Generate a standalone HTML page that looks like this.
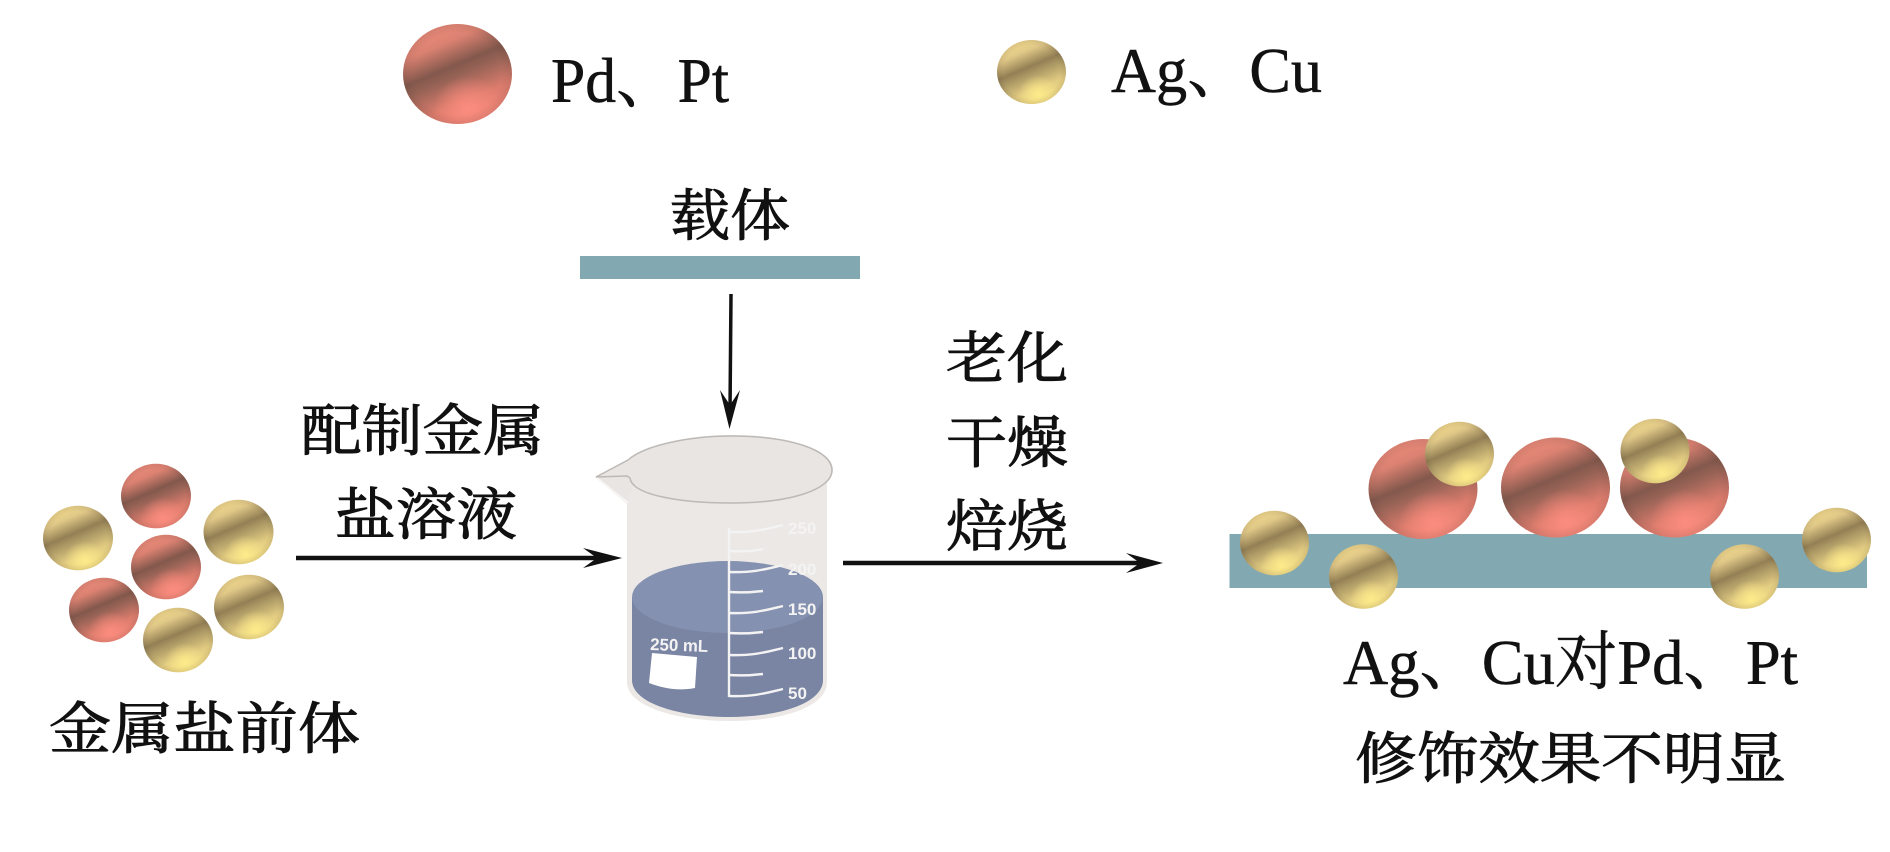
<!DOCTYPE html>
<html>
<head>
<meta charset="utf-8">
<style>
html,body{margin:0;padding:0;background:#fff;width:1890px;height:852px;overflow:hidden}
svg{display:block}
.t{font-family:"Liberation Serif","Noto Serif CJK SC",serif;fill:#111;stroke:#111;stroke-width:.5}
.c{font-family:"Noto Serif CJK SC","Liberation Serif",serif;fill:#111;font-size:56px;stroke:#111;stroke-width:1}
.l{font-family:"Liberation Sans",sans-serif;font-weight:bold;fill:#f4f3f3;font-size:17px}
.tick{fill:none;stroke:#f4f3f3;stroke-width:2.4}
</style>
</head>
<body>
<svg width="1890" height="852" viewBox="0 0 1890 852" xmlns="http://www.w3.org/2000/svg">
<defs>
  <linearGradient id="pL" x1="0.27" y1="0" x2="0.73" y2="1">
    <stop offset="0" stop-color="#ee8c7c"/><stop offset="0.2" stop-color="#dc8272"/>
    <stop offset="0.42" stop-color="#83584c"/><stop offset="0.52" stop-color="#986356"/>
    <stop offset="0.75" stop-color="#dc7c6d"/><stop offset="1" stop-color="#f4887a"/>
  </linearGradient>
  <radialGradient id="pH" cx="0.6" cy="0.85" r="0.33">
    <stop offset="0" stop-color="#fb8c7e"/><stop offset="1" stop-color="#fb8c7e" stop-opacity="0"/>
  </radialGradient>
  <linearGradient id="gL" x1="0.27" y1="0" x2="0.73" y2="1">
    <stop offset="0" stop-color="#f6de8e"/><stop offset="0.2" stop-color="#dfc787"/>
    <stop offset="0.42" stop-color="#937f54"/><stop offset="0.52" stop-color="#ab9864"/>
    <stop offset="0.75" stop-color="#e2cc82"/><stop offset="1" stop-color="#f6df86"/>
  </linearGradient>
  <radialGradient id="gH" cx="0.6" cy="0.85" r="0.3">
    <stop offset="0" stop-color="#fdeb8a"/><stop offset="1" stop-color="#fdeb8a" stop-opacity="0"/>
  </radialGradient>
  <radialGradient id="edge" cx="0.5" cy="0.5" r="0.5">
    <stop offset="0.82" stop-color="#40302a" stop-opacity="0"/><stop offset="1" stop-color="#40302a" stop-opacity="0.12"/>
  </radialGradient>
  <g id="P">
    <circle r="50" fill="url(#pL)"/><circle r="50" fill="url(#pH)"/><circle r="50" fill="url(#edge)"/>
  </g>
  <g id="G">
    <circle r="50" fill="url(#gL)"/><circle r="50" fill="url(#gH)"/><circle r="50" fill="url(#edge)"/>
  </g>
</defs>

<rect width="1890" height="852" fill="#fff"/>

<!-- Legend -->
<use href="#P" transform="translate(457.5,74) scale(1.09,1)"/>
<text class="t" x="551" y="102" font-size="64" textLength="178" lengthAdjust="spacingAndGlyphs">Pd、Pt</text>
<use href="#G" transform="translate(1031.5,72) scale(.69,.64)"/>
<text class="t" x="1111" y="92" font-size="64" textLength="211" lengthAdjust="spacingAndGlyphs">Ag、Cu</text>

<!-- Support -->
<text class="c" x="670" y="235.5" textLength="120" lengthAdjust="spacingAndGlyphs">载体</text>
<rect x="580" y="256" width="280" height="23" fill="#82a9b1"/>
<line x1="731" y1="294" x2="730" y2="412" stroke="#111" stroke-width="3.5"/>
<polygon points="720,390 729.5,429 740,390 730,405" fill="#111"/>

<!-- Left cluster -->
<use href="#P" transform="translate(156,496) scale(.70,.645)"/>
<use href="#G" transform="translate(78,538) scale(.70,.645)"/>
<use href="#G" transform="translate(238.5,532) scale(.70,.645)"/>
<use href="#P" transform="translate(166,567) scale(.70,.645)"/>
<use href="#P" transform="translate(104,610) scale(.70,.645)"/>
<use href="#G" transform="translate(249,607) scale(.70,.645)"/>
<use href="#G" transform="translate(178,640) scale(.70,.645)"/>
<text class="c" x="49" y="748.5" textLength="311" lengthAdjust="spacingAndGlyphs">金属盐前体</text>

<!-- Left arrow -->
<text class="c" x="301" y="450.5" textLength="243" lengthAdjust="spacingAndGlyphs">配制金属</text>
<text class="c" x="335" y="534.5" textLength="182" lengthAdjust="spacingAndGlyphs">盐溶液</text>
<line x1="296" y1="558" x2="605" y2="558" stroke="#111" stroke-width="4.4"/>
<polygon points="583,548 622,558 583,568 597,558" fill="#111"/>

<!-- Beaker -->
<path d="M627,470 L627,682 C627,706 675,721 730,721 C785,721 827,706 827,682 L827,470 Z" fill="#ebe8e5"/>
<path d="M632,597 L632,680 C632,703 678,717 729,717 C780,717 823,703 823,680 L823,597 Z" fill="#7a84a3"/>
<ellipse cx="727.5" cy="597" rx="95.5" ry="36" fill="#8591b0"/>
<path d="M627,503 L627,490 L596,477 Z" fill="#efecea"/>
<path d="M595,477 L629,459 C645,445 690,435 731,435 C790,435 833,450 833,470 C833,490 790,504 731,504 C680,504 632,495 630,478 Z" fill="#e9e5e2"/>
<path d="M595,477 L627,504 L632,488 L630,477 Z" fill="#e9e5e2"/>
<path d="M596,477 L628,460 C645,445 690,436 731,436 C790,436 832,450 832,470 C832,490 790,503 731,503 C680,503 632,495 630,478 L627,476 L596,477" fill="none" stroke="#bdb9b6" stroke-width="1.5"/>
<path d="M597,478 L628,503" stroke="#f7f6f5" stroke-width="2"/>

<path class="tick" d="M729,528 L729,697"/>
<path class="tick" d="M729,532 C755,533 770,528 783,525"/>
<path class="tick" d="M729,551 C745,552 755,551 763,549"/>
<path class="tick" d="M729,572 C755,573 770,568 783,565"/>
<path class="tick" d="M729,592 C745,593 755,592 763,591"/>
<path class="tick" d="M729,613 C755,614 770,609 783,606"/>
<path class="tick" d="M729,633 C745,634 755,633 763,632"/>
<path class="tick" d="M729,655 C755,656 770,651 783,648"/>
<path class="tick" d="M729,675 C745,676 755,675 763,674"/>
<path class="tick" d="M729,696 C755,697 770,692 783,689"/>
<text class="l" x="788" y="534">250</text>
<text class="l" x="788" y="575">200</text>
<text class="l" x="788" y="615">150</text>
<text class="l" x="788" y="659">100</text>
<text class="l" x="788" y="699">50</text>
<text class="l" x="650" y="650" font-size="16" transform="rotate(2 650 650)" textLength="58" lengthAdjust="spacingAndGlyphs">250 mL</text>
<path d="M652,653 L697,657 L695,688 C680,691 665,689 649,683 Z" fill="#fff"/>

<!-- Right arrow -->
<text class="c" x="946" y="378" textLength="122" lengthAdjust="spacingAndGlyphs">老化</text>
<text class="c" x="946" y="462.5" textLength="122" lengthAdjust="spacingAndGlyphs">干燥</text>
<text class="c" x="946" y="546" textLength="122" lengthAdjust="spacingAndGlyphs">焙烧</text>
<line x1="843" y1="563" x2="1145" y2="563" stroke="#111" stroke-width="4.4"/>
<polygon points="1126,553 1163,563 1126,573 1140,563" fill="#111"/>

<!-- Result -->
<rect x="1229.5" y="534" width="637.5" height="54" fill="#82a9b1"/>
<use href="#P" transform="translate(1423,489) scale(1.09,1)"/>
<use href="#P" transform="translate(1555.5,487.5) scale(1.09,1)"/>
<use href="#P" transform="translate(1674.5,487.5) scale(1.09,1)"/>
<use href="#G" transform="translate(1459.5,454) scale(.69,.645)"/>
<use href="#G" transform="translate(1655,451) scale(.69,.645)"/>
<use href="#G" transform="translate(1274.5,543) scale(.69,.645)"/>
<use href="#G" transform="translate(1363.5,576.5) scale(.69,.645)"/>
<use href="#G" transform="translate(1744.5,576.5) scale(.69,.645)"/>
<use href="#G" transform="translate(1836.5,540) scale(.69,.645)"/>
<text class="t" x="1343" y="684" font-size="64" textLength="455" lengthAdjust="spacingAndGlyphs">Ag、Cu对Pd、Pt</text>
<text class="c" x="1355" y="778.5" textLength="431" lengthAdjust="spacingAndGlyphs">修饰效果不明显</text>
</svg>
</body>
</html>
